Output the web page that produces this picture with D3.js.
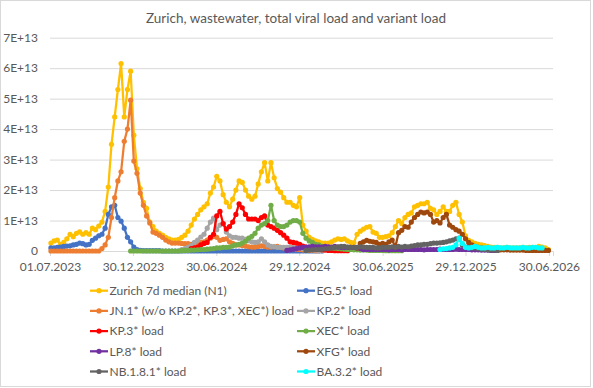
<!DOCTYPE html>
<html>
<head>
<meta charset="utf-8">
<script src="https://cdn.jsdelivr.net/npm/d3@7"></script>
<style>
  body { margin: 0; background: #fff; }
  svg text { font-family: Lato, "Open Sans", sans-serif; fill: #595959; }
</style>
</head>
<body>
<div id="chart"></div>
<script>
// values are read off the picture, in units of 1E+13, one value per week
// (weeks start on Monday 03.07.2023, each series starts at its own week index)
var firstWeek = new Date(2023, 6, 3);
var unit = 1e13;

var zurich = [
  0.26,0.33,0.36,0.22,0.28,0.40,0.55,0.47,0.58,0.63,
  0.55,0.60,0.55,0.75,0.70,0.82,0.95,1.30,2.10,3.50,
  4.40,5.30,6.15,4.40,5.30,5.90,3.80,2.70,2.05,1.60,
  1.40,0.95,0.80,0.65,0.58,0.52,0.45,0.40,0.36,0.36,
  0.38,0.45,0.52,0.65,0.85,1.05,1.20,1.35,1.45,1.55,
  1.90,2.10,2.45,2.30,1.85,1.60,1.45,1.70,2.00,2.30,
  2.25,2.00,1.80,1.70,1.80,2.20,2.60,2.90,2.30,2.90,
  2.40,2.05,1.93,1.75,1.60,1.60,1.50,1.45,1.75,0.85,
  0.65,0.45,0.38,0.33,0.30,0.26,0.26,0.26,0.30,0.36,
  0.40,0.38,0.40,0.33,0.28,0.27,0.55,0.65,0.72,0.78,
  0.80,0.62,0.58,0.45,0.45,0.47,0.50,0.60,0.80,1.00,
  0.90,1.10,1.20,1.25,1.45,1.50,1.55,1.55,1.60,1.40,
  1.35,1.20,1.30,1.45,1.30,1.30,1.50,1.60,1.20,0.95,
  0.50,0.35,0.30,0.25,0.22,0.20,0.18,0.15,0.13,0.12,
  0.12,0.10,0.10,0.12,0.10,0.10,0.10,0.10,0.12,0.10,
  0.12,0.12,0.10,0.15,0.13,0.10,0.05
];
var eg5 = [
  0.10,0.10,0.12,0.13,0.15,0.16,0.17,0.20,0.22,0.26,
  0.24,0.20,0.22,0.35,0.42,0.50,0.55,0.75,1.20,1.45,
  1.50,1.10,0.98,0.75,0.45,0.30,0.13,0.05,0.02,0.01,
  0.01,0.01,0.01,0.01,0.01,0,0,0,0,0,
  0,0,0,0,0,0,0,0,0,0,
  0,0,0,0,0,0,0,0,0,0,
  0,0,0,0,0,0,0,0,0,0,
  0,0,0,0,0,0,0,0,0,0,
  0,0,0,0,0,0
];
var jn1 = [
  0,0,0,0,0,0,0,0,0,0,
  0,0,0,0,0,0,0.08,0.20,0.45,1.10,
  1.75,2.30,2.60,3.60,4.00,4.95,2.95,2.55,1.90,1.50,
  1.15,0.92,0.62,0.58,0.52,0.45,0.36,0.30,0.26,0.26,
  0.26,0.25,0.24,0.24,0.22,0.22,0.25,0.28,0.30,0.36,
  0.42,0.48,0.45,0.35,0.38,0.40,0.30,0.25,0.20,0.20,
  0.18,0.16,0.14,0.13,0.13,0.15,0.17,0.15,0.13,0.13,
  0.14,0.15,0.12,0.10,0.10,0.08,0.07,0.06,0.05,0.04,
  0.03,0.02,0.02,0.01,0.01
];
var kp2 = [
  0.05,0.08,0.12,0.18,0.28,0.36,0.46,0.55,0.75,0.95,
  1.08,0.70,0.85,0.90,0.62,0.50,0.45,0.45,0.42,0.42,
  0.38,0.34,0.30,0.28,0.30,0.40,0.30,0.20,0.15,0.14,
  0.12,0.12,0.12,0.12,0.13,0.12,0.10,0.10,0.08,0.06,
  0.05,0.04,0.03,0.02,0.02
];
var kp3 = [
  0.08,0.10,0.13,0.20,0.25,0.28,0.45,0.55,1.15,1.30,
  0.90,0.72,0.80,0.95,1.20,1.55,1.42,1.20,1.05,1.05,
  1.05,1.00,1.10,1.15,0.85,0.80,0.75,0.68,0.60,0.52,
  0.42,0.30,0.28,0.26,0.22,0.16,0.13,0.10,0.08,0.06,
  0.05,0.04,0.03,0.02,0.02,0.01,0.01,0.01,0.01,0.01
];
var xec = [
  0,0,0,0,0,0,0,0,0,0,
  0,0,0,0,0,0,0.01,0.02,0.02,0.03,
  0.03,0.04,0.05,0.05,0.06,0.07,0.08,0.10,0.10,0.12,
  0.12,0.13,0.17,0.20,0.22,0.26,0.32,0.42,0.48,0.58,
  0.75,0.85,0.90,1.00,1.50,1.00,0.85,0.80,0.80,0.85,
  0.95,1.00,1.00,0.95,0.58,0.42,0.33,0.28,0.22,0.20,
  0.15,0.12,0.10,0.10,0.09,0.08,0.07,0.06,0.05,0.05,
  0.04,0.04,0.03,0.03,0.03,0.02,0.02,0.02,0.02,0.02,
  0.01,0.01,0.01,0.01,0.01,0.01
];
var lp8 = [
  0.02,0.04,0.06,0.08,0.10,0.12,0.13,0.14,0.15,0.14,
  0.14,0.13,0.15,0.14,0.13,0.15,0.13,0.12,0.12,0.12,
  0.12,0.12,0.10,0.08,0.05,0.05,0.05,0.05,0.05,0.05,
  0.05,0.05,0.04,0.05,0.05,0.05,0.04,0.05,0.05,0.05,
  0.05,0.05,0.05,0.04,0.05,0.05,0.05,0.05,0.06,0.05,
  0.05,0.05,0.05,0.06,0.05,0.05,0.05,0.05,0.04,0.04,
  0.04,0.03,0.03,0.03,0.02,0.02,0.02
];
var xfg = [
  0.10,0.25,0.30,0.35,0.32,0.30,0.28,0.22,0.25,0.22,
  0.30,0.36,0.13,0.60,0.68,0.80,0.78,0.95,1.10,1.20,
  1.28,1.25,1.28,1.20,0.95,1.00,0.92,1.10,1.20,0.85,
  0.78,0.70,0.65,0.55,0.40,0.28,0.20,0.15,0.12,0.10,
  0.08,0.06,0.06,0.05,0.05,0.04,0.04,0.04,0.03,0.03,
  0.03,0.03,0.03,0.02,0.02,0.02,0.02,0.02,0.02,0.02,
  0.02
];
var nb181 = [
  0.02,0.03,0.04,0.05,0.05,0.06,0.07,0.08,0.10,0.12,
  0.14,0.15,0.15,0.13,0.12,0.12,0.12,0.14,0.13,0.12,
  0.12,0.12,0.10,0.10,0.12,0.12,0.12,0.14,0.12,0.15,
  0.13,0.15,0.14,0.16,0.18,0.20,0.20,0.22,0.22,0.24,
  0.26,0.26,0.27,0.28,0.30,0.33,0.36,0.40,0.42,0.20,
  0.13,0.12,0.10,0.10,0.08,0.06,0.05,0.04,0.03,0.03,
  0.02
];
var ba32 = [
  0.05,0.07,0.08,0.10,0.12,0.20,0.42,0.25,0.12,0.10,
  0.12,0.15,0.12,0.10,0.10,0.12,0.10,0.10,0.12,0.10,
  0.10,0.12,0.10,0.10,0.10,0.10,0.12,0.10,0.10,0.12,
  0.12,0.10,0.10
];

var seriesNames = [
  "Zurich 7d median (N1)", "EG.5* load",
  "JN.1* (w/o KP.2*, KP.3*, XEC*) load", "KP.2* load",
  "KP.3* load", "XEC* load",
  "LP.8* load", "XFG* load",
  "NB.1.8.1* load", "BA.3.2* load"
];
var seriesColors = ["#FFC000", "#4472C4", "#ED7D31", "#A5A5A5", "#FF0000",
                    "#70AD47", "#7030A0", "#9E480E", "#636363", "#00FFFF"];
var seriesStart = [0, 0, 0, 41, 44, 25, 74, 96, 80, 122];
var seriesValues = [zurich, eg5, jn1, kp2, kp3, xec, lp8, xfg, nb181, ba32];

var xTicks = ["01.07.2023", "30.12.2023", "30.06.2024", "29.12.2024",
              "30.06.2025", "29.12.2025", "30.06.2026"];
var yTicks = [0, 1, 2, 3, 4, 5, 6, 7];

var width = 593;
var height = 388;
var margin = { top: 37.7, right: 40, bottom: 137, left: 50 };
var parse = d3.timeParse("%d.%m.%Y");

var svg = d3.select("#chart")
  .append("svg")
  .attr("width", width)
  .attr("height", height);

svg.append("rect")
  .attr("x", 0.5).attr("y", 0.5)
  .attr("width", 590).attr("height", 386)
  .attr("fill", "#fff")
  .attr("stroke", "#D9D9D9");

var x = d3.scaleTime()
  .domain([parse("01.07.2023"), parse("09.07.2026")])
  .range([margin.left, width - margin.right]);

var y = d3.scaleLinear()
  .domain([0, 7 * unit])
  .range([height - margin.bottom, margin.top]);

// gridlines
svg.append("g")
  .attr("transform", `translate(${margin.left},0)`)
  .call(d3.axisLeft(y)
    .tickValues(yTicks.map(d => d * unit))
    .tickSize(-(width - margin.right - margin.left))
    .tickFormat(""))
  .call(g => g.select(".domain").remove())
  .call(g => g.selectAll("line").attr("stroke", "#D9D9D9").attr("stroke-width", 1));

// y labels
svg.append("g")
  .selectAll("text")
  .data(yTicks)
  .join("text")
  .attr("x", 38)
  .attr("y", d => y(d * unit) + 4.3)
  .attr("text-anchor", "end")
  .attr("font-size", 12)
  .text(d => d === 0 ? "0" : d + "E+13");

// x axis
svg.append("g")
  .attr("transform", `translate(0,${y(0)})`)
  .call(d3.axisBottom(x)
    .tickValues(xTicks.map(parse))
    .tickSize(5)
    .tickPadding(6)
    .tickFormat(d3.timeFormat("%d.%m.%Y")))
  .call(g => g.select(".domain").attr("stroke", "#D9D9D9"))
  .call(g => g.selectAll("line").attr("stroke", "#D9D9D9"))
  .call(g => g.selectAll("text")
    .attr("font-size", 12)
    .attr("font-family", "Lato, sans-serif")
    .attr("fill", "#595959"));

// series
var line = d3.line()
  .x(d => x(d.date))
  .y(d => y(d.value * unit));

seriesValues.forEach(function (values, i) {
  var pts = values.map(function (v, j) {
    return { date: d3.timeDay.offset(firstWeek, 7 * (seriesStart[i] + j)), value: v };
  });
  var g = svg.append("g");
  g.append("path")
    .datum(pts)
    .attr("fill", "none")
    .attr("stroke", seriesColors[i])
    .attr("stroke-width", 2.25)
    .attr("stroke-linejoin", "round")
    .attr("d", line);
  g.selectAll("circle")
    .data(pts)
    .join("circle")
    .attr("cx", d => x(d.date))
    .attr("cy", d => y(d.value * unit))
    .attr("r", 2.6)
    .attr("fill", seriesColors[i]);
});

// title
svg.append("text")
  .attr("x", 296)
  .attr("y", 23)
  .attr("text-anchor", "middle")
  .attr("font-size", 13.5)
  .text("Zurich, wastewater, total viral load and variant load");

// legend
var legend = svg.append("g")
  .selectAll("g")
  .data(seriesNames)
  .join("g")
  .attr("transform", (d, i) => `translate(${i % 2 ? 297 : 90},${290.7 + 20.2 * Math.floor(i / 2)})`);

legend.append("line")
  .attr("x1", 0).attr("x2", 18)
  .attr("stroke", (d, i) => seriesColors[i])
  .attr("stroke-width", 2.25);
legend.append("circle")
  .attr("cx", 9).attr("r", 2.6)
  .attr("fill", (d, i) => seriesColors[i]);
legend.append("text")
  .attr("x", 19.5)
  .attr("y", 4.3)
  .attr("font-size", 12)
  .text(d => d);
</script>
</body>
</html>
